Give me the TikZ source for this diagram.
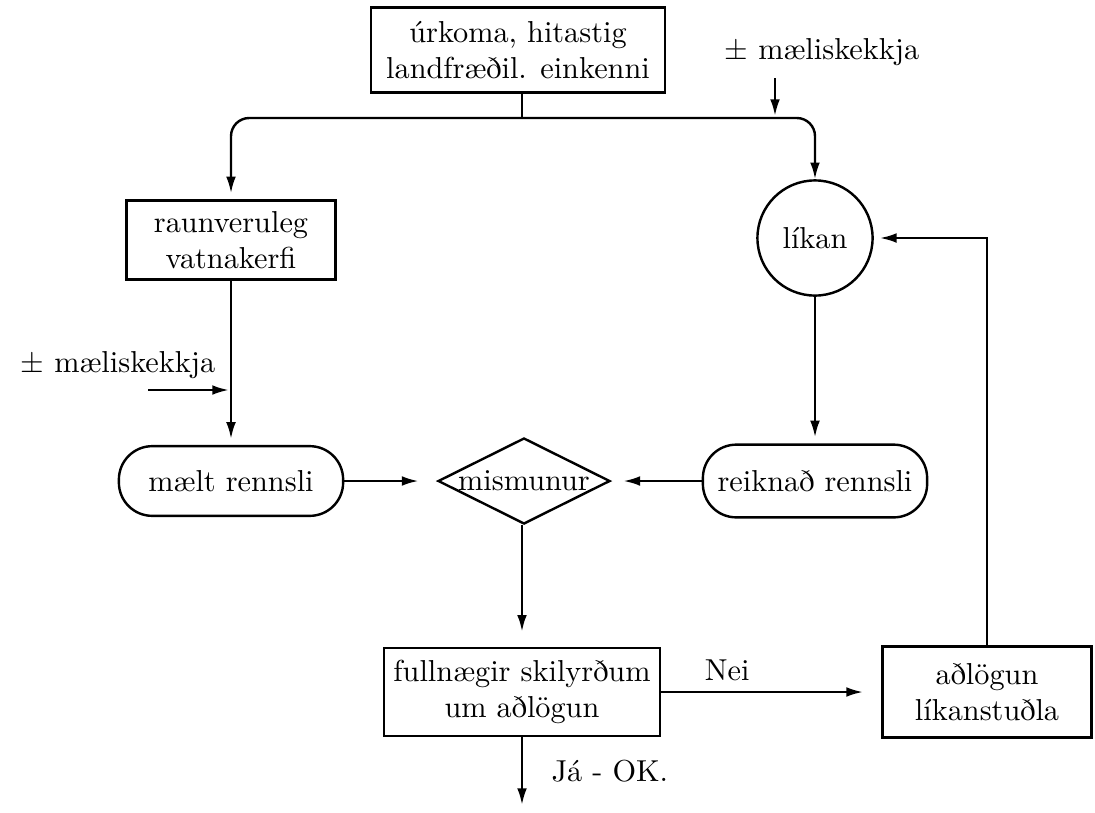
\documentclass[tikz,border=0pt]{standalone}
\usepackage{fontspec}
\usetikzlibrary{positioning}
\usetikzlibrary{shapes}
\usetikzlibrary{arrows.meta}
\usepackage{amsmath}

\begin{document}
\begin{tikzpicture}[x=0.33pt, y=-0.33pt, line width=0.8pt,
        box/.style={draw, rectangle, align=center, inner sep=2pt},
        pill/.style={draw, rectangle, rounded corners=11pt, align=center},
        ring/.style={draw, circle, minimum size=38pt, inner sep=0pt},
        rhomb/.style={draw, diamond, aspect=2, inner sep=0pt},
        arr/.style={-{Latex[length=5.5pt, width=3.2pt]}, shorten >=2pt}]
            \useasboundingbox (0, 0) rectangle (1095, 812);

            \node[box, minimum width=97pt, minimum height=28pt] (clim) at (518, 50) {úrkoma, hitastig\\landfræðil. einkenni};
            \node[box, minimum width=69pt, minimum height=26pt] (raun) at (231, 240) {raunveruleg\\vatnakerfi};
            \node[ring] (lik) at (815, 238) {líkan};
            \node[pill, minimum width=74pt, minimum height=23pt] (mael) at (231, 481) {mælt rennsli};
            \node[rhomb] (mism) at (524, 481) {mismunur};
            \node[pill, minimum width=74pt, minimum height=24pt] (reikn) at (815, 481) {reiknað rennsli};
            \node[box, minimum width=91pt, minimum height=29pt] (full) at (522, 692) {fullnægir skilyrðum\\um aðlögun};
            \node[box, minimum width=69pt, minimum height=30pt] (adl) at (987, 692) {aðlögun\\líkanstuðla};

            \node (errtop) at (822, 52) {$\pm$ mæliskekkja};
            \node (errleft) at (118, 365) {$\pm$ mæliskekkja};

            \coordinate (split) at (522, 118);
            \coordinate (etop) at (775, 78);
            \coordinate (etip) at (775, 116);
            \coordinate (lstart) at (148, 390);
            \coordinate (ltip) at (229, 390);
            \coordinate (okend) at (522, 805);

            \draw (clim.south -| split) -- (split);
            \draw[arr, rounded corners=6pt] (split) -| (raun.north);
            \draw[arr, rounded corners=6pt, shorten >=0pt] (split) -| (lik.north);
            \draw[arr, shorten >=0pt] (etop) -- (etip);
            \draw[arr] (raun) -- (mael);
            \draw[arr, shorten >=0pt] (lstart) -- (ltip);
            \draw[arr, shorten >=6pt] (mael) -- (mism);
            \draw[arr, shorten >=4pt] (reikn) -- (mism);
            \draw[arr] (lik) -- (reikn);
            \draw[arr, shorten >=5pt] (mism.south -| full.north) -- (full.north);
            \draw[arr, shorten >=6pt] (full) -- node[above, pos=0.3] {Nei} (adl);
            \draw[arr] (adl.north) |- (lik.east);
            \draw[arr, shorten >=0pt] (full) -- node[right=6pt] {Já - OK.} (okend);
        \end{tikzpicture}
\end{document}
